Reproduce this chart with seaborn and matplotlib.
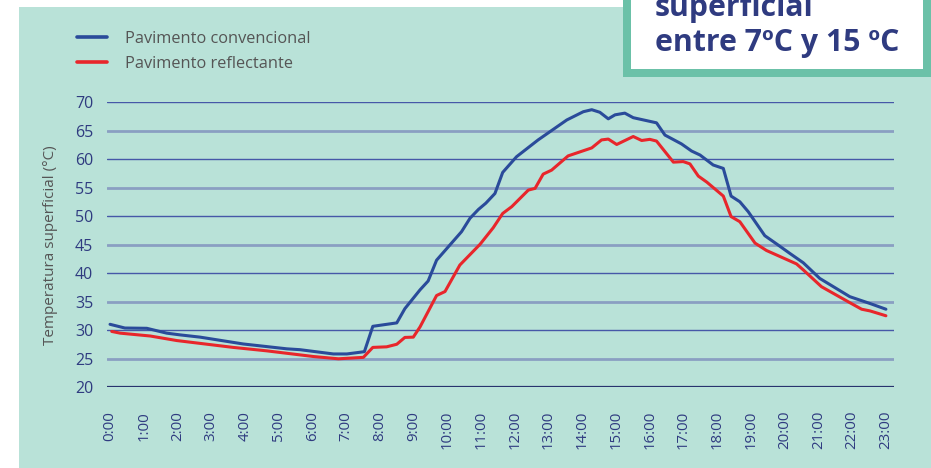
import matplotlib
matplotlib.use("Agg")
import matplotlib.pyplot as plt
from matplotlib.patches import Rectangle
from matplotlib.lines import Line2D
import seaborn as sns
import pandas as pd

# ---- data (hours since midnight, surface temperature in °C) ----
conv_hours = [0.00, 0.44, 1.09, 1.68, 2.07, 2.67, 3.95, 5.24, 5.63, 6.62, 7.02, 7.54,
              7.79, 8.50, 8.74, 9.19, 9.43, 9.68, 10.42, 10.67, 10.92, 11.14, 11.41,
              11.64, 12.05, 12.69, 13.54, 14.03, 14.28, 14.52, 14.77, 14.97, 15.26,
              15.51, 16.20, 16.45, 16.94, 17.24, 17.49, 17.88, 18.18, 18.41, 18.67,
              18.92, 19.41, 19.76, 20.15, 20.55, 21.04, 21.93, 22.53, 23.00]
conv_temp = [31.05, 30.4, 30.35, 29.5, 29.2, 28.8, 27.6, 26.75, 26.6, 25.85, 25.85, 26.25,
             30.7, 31.3, 33.8, 37.1, 38.65, 42.3, 47.3, 49.65, 51.2, 52.3, 54.0,
             57.7, 60.45, 63.4, 66.9, 68.35, 68.7, 68.25, 67.1, 67.8, 68.1,
             67.3, 66.4, 64.25, 62.7, 61.45, 60.75, 59.0, 58.4, 53.55, 52.55,
             50.8, 46.6, 45.15, 43.5, 41.85, 39.1, 35.9, 34.7, 33.7]

refl_hours = [0.05, 0.30, 1.19, 1.98, 3.65, 4.64, 6.03, 6.77, 7.51, 7.79, 8.20, 8.50,
              8.74, 8.99, 9.19, 9.68, 9.93, 10.37, 10.97, 11.36, 11.64, 11.91, 12.40,
              12.60, 12.84, 13.09, 13.58, 14.28, 14.57, 14.77, 15.02, 15.51, 15.76,
              16.00, 16.20, 16.70, 16.99, 17.19, 17.44, 17.69, 18.18, 18.41, 18.67,
              19.12, 19.46, 20.35, 20.55, 21.09, 21.93, 22.28, 22.53, 23.00]
refl_temp = [29.8, 29.5, 29.0, 28.2, 27.0, 26.4, 25.4, 25.0, 25.25, 27.0, 27.1, 27.55,
             28.75, 28.8, 30.6, 36.1, 36.8, 41.45, 45.1, 48.0, 50.5, 51.7, 54.6,
             54.9, 57.4, 58.1, 60.6, 62.0, 63.4, 63.55, 62.6, 64.0, 63.3,
             63.5, 63.2, 59.5, 59.6, 59.2, 57.05, 56.0, 53.55, 49.95, 49.05,
             45.3, 44.0, 41.65, 40.6, 37.65, 34.85, 33.7, 33.4, 32.55]

series_names = ["Pavimento convencional", "Pavimento reflectante"]
y_ticks = [20, 25, 30, 35, 40, 45, 50, 55, 60, 65, 70]
x_ticks = list(range(24))
x_labels = [f"{h}:00" for h in x_ticks]
box_lines = ["superficial", "entre 7ºC y 15 ºC"]

df = pd.concat([
    pd.DataFrame({"hora": conv_hours, "temp": conv_temp, "serie": series_names[0]}),
    pd.DataFrame({"hora": refl_hours, "temp": refl_temp, "serie": series_names[1]}),
], ignore_index=True)

# ---- styling ----
sns.set_style("white")
plt.rcParams["font.family"] = ["Open Sans", "DejaVu Sans"]

W, H = 931, 468
fig = plt.figure(figsize=(W / 100, H / 100), dpi=100, facecolor="white")

teal_bg = "#b9e2d8"
navy = "#2f3b80"
grey_text = "#555555"
blue = "#2a4b9a"
red = "#e8262b"

# teal panel (behind everything)
fig.patches.append(Rectangle((19 / W, 0), 1 - 19 / W, 1 - 7 / H,
                             transform=fig.transFigure, facecolor=teal_bg,
                             edgecolor="none", zorder=-10))

ax = fig.add_axes([107 / W, 1 - 387.3 / H, (894 - 107) / W, (387.3 - 102.3) / H])
ax.set_facecolor("none")
ax.patch.set_alpha(0)

# grid lines
for v in y_ticks:
    if v == 20:
        ax.axhline(v, color="#28336e", lw=1.6, zorder=1)
    elif v % 10 == 0:
        ax.axhline(v, color="#4658a8", lw=1.0, zorder=1)
    else:
        ax.axhline(v, color="#8a9fc2", lw=2.0, zorder=1)

sns.lineplot(data=df, x="hora", y="temp", hue="serie", ax=ax,
             palette={series_names[0]: blue, series_names[1]: red},
             linewidth=2.2, legend=False, zorder=3, sort=False)

ax.set_xlim(-0.09, 23.24)
ax.set_ylim(20, 70)
ax.set_yticks(y_ticks)
ax.set_yticklabels([str(v) for v in y_ticks], fontsize=11.5, color=navy)
ax.set_xticks(x_ticks)
ax.set_xticklabels(x_labels, rotation=90, fontsize=10.8, color=navy, va="top")
ax.tick_params(axis="both", length=0)
ax.tick_params(axis="y", pad=10)
ax.tick_params(axis="x", pad=17)
for s in ax.spines.values():
    s.set_visible(False)
ax.set_xlabel("")
ax.set_ylabel("Temperatura superficial (°C)", fontsize=11, color=grey_text, labelpad=12)

# legend
handles = [Line2D([], [], color=blue, lw=2.6), Line2D([], [], color=red, lw=2.6)]
fig.legend(handles, series_names, loc="upper left",
           bbox_to_anchor=(77 / W, 1 - 31 / H), frameon=False, fontsize=11.8,
           handlelength=1.85, handletextpad=1.05, labelspacing=0.55,
           borderpad=0, borderaxespad=0, labelcolor=grey_text)

# top-right box
fig.patches.append(Rectangle((623 / W, 1 - 77 / H), 1 - 623 / W, 77 / H + 0.05,
                             transform=fig.transFigure, facecolor="#6bc1a8",
                             edgecolor="none", zorder=5))
fig.patches.append(Rectangle((631 / W, 1 - 69 / H), (923 - 631) / W, 69 / H + 0.05,
                             transform=fig.transFigure, facecolor="white",
                             edgecolor="none", zorder=6))
fig.text(655 / W, 1 - 16 / H, box_lines[0], fontsize=21.8, fontweight="bold",
         color=navy, va="baseline", ha="left", zorder=7)
fig.text(655 / W, 1 - 51 / H, box_lines[1], fontsize=21.8, fontweight="bold",
         color=navy, va="baseline", ha="left", zorder=7)

fig.savefig("out.png", dpi=100, facecolor="white")
